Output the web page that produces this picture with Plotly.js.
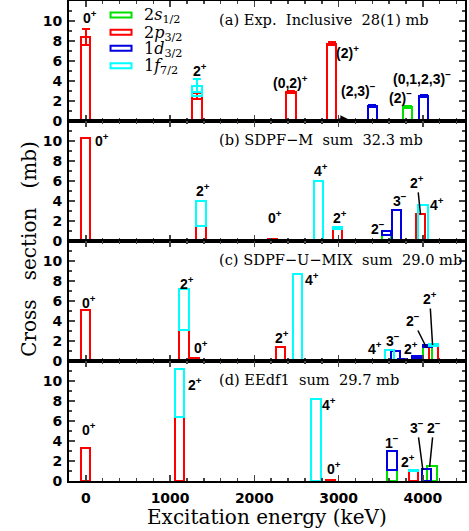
<!DOCTYPE html>
<html>
<head>
<meta charset="utf-8">
<script src="https://cdn.plot.ly/plotly-3.0.1.min.js"></script>
<style>html,body{margin:0;padding:0;background:#fff;}</style>
</head>
<body>
<div id="chart" style="width:469px;height:531px;"></div>
<script>
/* cross sections per orbital (2s1/2, 2p3/2, 1d3/2, 1f7/2), stacked in that order */

const ORBITALS = ['2<i>s</i><sub>1/2</sub>', '2<i>p</i><sub>3/2</sub>', '1<i>d</i><sub>3/2</sub>', '1<i>f</i><sub>7/2</sub>'];
const ORB_COLORS = ['#00e000', '#ff0000', '#0000e0', '#00ffff'];

// (a) experiment
const E_A = [0, 1320, 2435, 2918, 3402, 3820, 4010];
const S_A = [0, 0, 0, 0, 0, 1.35, 0];
const P_A = [8.4, 2.45, 2.9, 7.7, 0, 0, 0];
const D_A = [0, 0, 0, 0, 1.45, 0, 2.5];
const F_A = [0, 1.05, 0, 0, 0, 0, 0];
const S_A_ERR = [0, 0, 0, 0, 0, 0.1, 0];
const P_A_ERR = [0.8, 0.3, 0.1, 0.15, 0, 0, 0];
const D_A_ERR = [0, 0, 0, 0, 0.1, 0, 0.1];
const F_A_ERR = [0, 0.65, 0, 0, 0, 0, 0];

// (b) SDPF-M
const E_B = [0, 1367, 2216, 2760, 2983, 3567, 3689, 3972, 4001];
const S_B = [0, 0, 0, 0, 0, 0.6, 0, 0, 0];
const P_B = [10.3, 1.5, 0.25, 0, 1.2, 0, 0, 2.65, 0];
const D_B = [0, 0, 0, 0, 0, 0.4, 3.05, 0, 0];
const F_B = [0, 2.5, 0, 6.0, 0.2, 0, 0, 0, 3.55];

// (c) SDPF-U-MIX
const E_C = [0, 1165, 1283, 2307, 2512, 3606, 3671, 3760, 3926, 4051, 4124];
const S_C = [0, 0, 0, 0, 0, 0, 0, 0, 0.35, 1.35, 0];
const P_C = [5.1, 3.1, 0.3, 1.35, 0, 0, 0, 0, 0, 0, 1.5];
const D_C = [0, 0, 0, 0, 0, 0, 0.95, 0.2, 0.15, 0.25, 0];
const F_C = [0, 4.1, 0, 0, 8.65, 1.1, 0, 0, 0, 0, 0.15];

// (d) EEdf1
const E_D = [0, 1112, 2732, 2904, 3632, 3887, 4045, 4108];
const S_D = [0, 0, 0, 0, 1.1, 0, 0, 1.45];
const P_D = [3.3, 6.4, 0, 0.12, 0, 0.95, 0, 0];
const D_D = [0, 0, 0, 0, 1.9, 0, 1.15, 0];
const F_D = [0, 4.75, 8.15, 0, 0, 0.1, 0, 0];

const TITLES = [
  '(a) Exp.\u00a0 Inclusive\u00a0 28(1) mb',
  '(b) SDPF\u2212M\u00a0 sum\u00a0 32.3 mb',
  '(c) SDPF\u2212U\u2212MIX\u00a0 sum\u00a0 29.0 mb',
  '(d) EEdf1\u00a0 sum\u00a0 29.7 mb'
];

// spin labels: text, x (keV), y (mb)
const LAB_A = [['0<sup>+</sup>', 44, 10.4], ['2<sup>+</sup>', 1349, 5.1], ['(0,2)<sup>+</sup>', 2432, 3.9],
  ['(2)<sup>+</sup>', 3102, 6.9], ['(2,3)<sup>\u2212</sup>', 3238, 3.1], ['(2)<sup>\u2212</sup>', 3731, 2.4],
  ['(0,1,2,3)<sup>\u2212</sup>', 3986, 4.3]];
const LAB_B = [['0<sup>+</sup>', 186, 10.1], ['2<sup>+</sup>', 1388, 5.1], ['0<sup>+</sup>', 2250, 2.4],
  ['4<sup>+</sup>', 2796, 7.1], ['2<sup>+</sup>', 3021, 2.4], ['2<sup>\u2212</sup>', 3464, 1.3],
  ['3<sup>\u2212</sup>', 3725, 4.1], ['4<sup>+</sup>', 4170, 3.7]];
const LAB_C = [['0<sup>+</sup>', 33, 5.9], ['2<sup>+</sup>', 1198, 7.8], ['0<sup>+</sup>', 1364, 1.4],
  ['2<sup>+</sup>', 2333, 2.4], ['4<sup>+</sup>', 2687, 8.2], ['4<sup>+</sup>', 3434, 1.3],
  ['3<sup>\u2212</sup>', 3642, 2.1], ['2<sup>+</sup>', 3864, 1.3]];
const LAB_D = [['0<sup>+</sup>', 36, 5.2], ['2<sup>+</sup>', 1299, 9.7], ['4<sup>+</sup>', 2883, 7.7],
  ['0<sup>+</sup>', 2940, 1.3], ['1<sup>\u2212</sup>', 3636, 3.9], ['2<sup>+</sup>', 3823, 2.0]];

// labels with a leader line: text, label x, label y, bar x, bar y
const LEAD_B = [['2<sup>+</sup>', 3932, 5.9, 3972, 2.65]];
const LEAD_C = [['2<sup>\u2212</sup>', 3879, 4.1, 4045, 1.3], ['2<sup>+</sup>', 4081, 6.3, 4115, 1.6]];
const LEAD_D = [['3<sup>\u2212</sup>', 3932, 5.4, 4000, 1.1], ['2<sup>\u2212</sup>', 4128, 5.4, 4080, 1.4]];

const LABEL_FONT = { family: 'Liberation Sans', size: 14, weight: 'bold', color: '#000' };
const SERIF = 'DejaVu Serif';

const panels = [
  { E: E_A, comps: [S_A, P_A, D_A, F_A], errs: [S_A_ERR, P_A_ERR, D_A_ERR, F_A_ERR], labels: LAB_A, leads: [] },
  { E: E_B, comps: [S_B, P_B, D_B, F_B], labels: LAB_B, leads: LEAD_B },
  { E: E_C, comps: [S_C, P_C, D_C, F_C], labels: LAB_C, leads: LEAD_C },
  { E: E_D, comps: [S_D, P_D, D_D, F_D], labels: LAB_D, leads: LEAD_D }
];

const traces = [];
const annotations = [];

panels.forEach((pn, k) => {
  const sx = k ? String(k + 1) : '';
  pn.comps.forEach((vals, j) => {
    const idx = pn.E.map((_, i) => i).filter(i => vals[i] > 0);
    if (!idx.length) return;
    const t = {
      type: 'bar', x: idx.map(i => pn.E[i]), y: idx.map(i => vals[i]), width: 110,
      xaxis: 'x' + sx, yaxis: 'y' + sx, hoverinfo: 'skip', showlegend: false,
      marker: { color: 'rgba(0,0,0,0)', line: { color: ORB_COLORS[j], width: 2 } }
    };
    if (pn.errs) {
      t.error_y = { type: 'data', array: idx.map(i => pn.errs[j][i]), color: ORB_COLORS[j], thickness: 2, width: 4 };
    }
    traces.push(t);
  });

  annotations.push({
    xref: 'x' + sx + ' domain', yref: 'y' + sx + ' domain', x: 0.374, y: 0.842,
    xanchor: 'left', yanchor: 'middle', showarrow: false, text: TITLES[k],
    font: { family: SERIF, size: 14.6, color: '#000' }
  });
  pn.labels.forEach(([txt, x, y]) => annotations.push({
    xref: 'x' + sx, yref: 'y' + sx, x: x, y: y, text: txt, showarrow: false, font: LABEL_FONT
  }));
  pn.leads.forEach(([txt, lx, ly, bx, by]) => annotations.push({
    xref: 'x' + sx, yref: 'y' + sx, axref: 'x' + sx, ayref: 'y' + sx,
    x: bx, y: by, ax: lx, ay: ly, text: txt, font: LABEL_FONT,
    showarrow: true, arrowhead: 0, arrowwidth: 1.5, arrowcolor: '#000', standoff: 0
  }));
});

// legend (panel a)
const LEG_Y = [10.6, 8.87, 7.27, 5.53];
const shapes = ORBITALS.map((_, j) => ({
  type: 'rect', xref: 'x', yref: 'y', x0: 293, x1: 542, y0: LEG_Y[j] - 0.25, y1: LEG_Y[j] + 0.25,
  line: { color: ORB_COLORS[j], width: 2 }, fillcolor: 'rgba(0,0,0,0)'
}));
ORBITALS.forEach((txt, j) => annotations.push({
  xref: 'x', yref: 'y', x: 672, y: LEG_Y[j] - 0.1, xanchor: 'left', yanchor: 'middle',
  showarrow: false, text: txt, font: { family: SERIF, size: 16, color: '#000' }
}));

// small arrow near 3 MeV in (a)
annotations.push({
  xref: 'x', yref: 'y', axref: 'x', ayref: 'y', x: 3110, y: 0.2, ax: 2990, ay: 0.2, text: '',
  showarrow: true, arrowhead: 2, arrowsize: 1, arrowwidth: 1.5, arrowcolor: '#000'
});

annotations.push({
  xref: 'paper', yref: 'paper', x: -0.136, y: 0.484, textangle: -90, showarrow: false,
  text: 'Cross\u00a0\u00a0 section\u00a0\u00a0 (mb)', font: { family: SERIF, size: 20, color: '#000' }
});
annotations.push({
  xref: 'paper', yref: 'paper', x: 0.5, y: -0.075, yanchor: 'middle', showarrow: false,
  text: 'Excitation energy (keV)', font: { family: SERIF, size: 20, color: '#000' }
});

const tickFont = { family: 'DejaVu Sans', size: 14, weight: 'bold', color: '#000' };
const xBase = {
  range: [-200, 4500], tick0: 0, dtick: 1000, ticks: 'inside', ticklen: 6, tickwidth: 1.5,
  minor: { dtick: 200, ticklen: 3, tickwidth: 1.5, ticks: 'inside' },
  showline: true, linewidth: 2, linecolor: '#000', mirror: 'allticks',
  showgrid: false, zeroline: false, showticklabels: false, tickfont: tickFont
};
const yBase = {
  range: [0, 11.99], tick0: 0, dtick: 2, ticks: 'inside', ticklen: 6, tickwidth: 1.5,
  minor: { dtick: 1, ticklen: 3, tickwidth: 1.5, ticks: 'inside' },
  showline: true, linewidth: 2, linecolor: '#000', mirror: 'allticks',
  showgrid: false, zeroline: false, tickfont: tickFont, ticklabelstandoff: 2
};

const layout = {
  width: 469, height: 531, margin: { l: 69, r: 4, t: 1, b: 50 },
  barmode: 'stack', bargap: 0, showlegend: false,
  paper_bgcolor: '#fff', plot_bgcolor: '#fff',
  xaxis: { ...xBase, anchor: 'y' },
  xaxis2: { ...xBase, anchor: 'y2', matches: 'x' },
  xaxis3: { ...xBase, anchor: 'y3', matches: 'x' },
  xaxis4: { ...xBase, anchor: 'y4', matches: 'x', showticklabels: true, ticklabelstandoff: 3 },
  yaxis: { ...yBase, anchor: 'x', domain: [0.75, 1] },
  yaxis2: { ...yBase, anchor: 'x2', domain: [0.5, 0.75] },
  yaxis3: { ...yBase, anchor: 'x3', domain: [0.25, 0.5] },
  yaxis4: { ...yBase, anchor: 'x4', domain: [0, 0.25] },
  shapes: shapes,
  annotations: annotations
};

Plotly.newPlot('chart', traces, layout, { displayModeBar: false, staticPlot: true });
</script>
</body>
</html>
